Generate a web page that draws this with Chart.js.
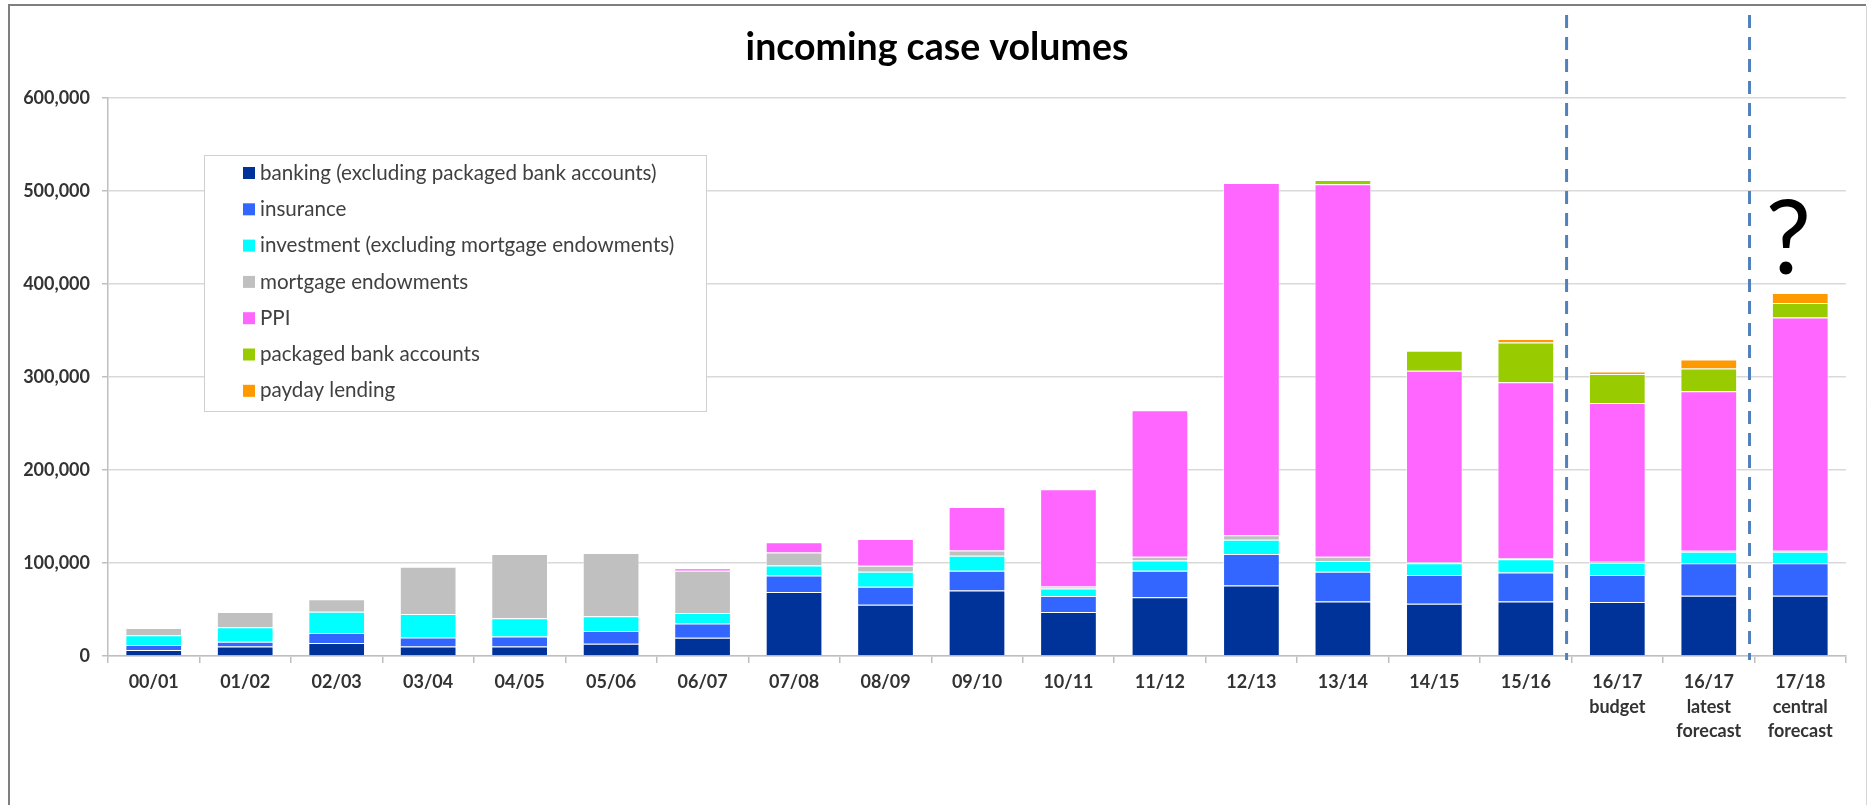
<!DOCTYPE html>
<html>
<head>
<meta charset="utf-8">
<script src="https://cdn.jsdelivr.net/npm/chart.js@4.4.1/dist/chart.umd.min.js"></script>
<style>
  html, body { margin: 0; padding: 0; background: #fff; }
  #wrap { width: 1868px; height: 805px; }
</style>
</head>
<body>
<div id="wrap"><canvas id="chart" width="1868" height="805"></canvas></div>
<script>
// ---- data ----
const chartTitle = 'incoming case volumes';
const years = ['00/01', '01/02', '02/03', '03/04', '04/05', '05/06', '06/07', '07/08', '08/09', '09/10',
  '10/11', '11/12', '12/13', '13/14', '14/15', '15/16',
  ['16/17', 'budget'], ['16/17', 'latest', 'forecast'], ['17/18', 'central', 'forecast']];

const banking    = [6400, 10300, 13900, 10300, 10300, 13200, 19600, 68700, 55200, 70500, 47300, 63300, 75800, 58700, 56200, 58700, 58000, 64800, 64800];
const insurance  = [5300, 5000, 10700, 9600, 10700, 13800, 15300, 17800, 19200, 21300, 17100, 28500, 33800, 32000, 31000, 31000, 29200, 34800, 34800];
const investment = [10700, 15700, 23100, 25300, 19600, 15700, 11400, 10700, 16300, 16000, 8200, 11000, 15300, 11400, 12400, 14200, 13200, 12500, 12500];
const mortgage   = [7800, 16300, 13200, 50900, 69000, 68000, 45500, 14200, 6400, 5700, 2100, 4000, 5000, 4700, 1000, 1000, 1000, 1200, 1000];
const ppi        = [0, 0, 0, 0, 0, 0, 2500, 11000, 28800, 46600, 104700, 157400, 378700, 400400, 206200, 189400, 170700, 171500, 251000];
const packaged   = [0, 0, 0, 0, 0, 0, 0, 0, 0, 0, 0, 0, 0, 4600, 21500, 42900, 31100, 24300, 15400];
const payday     = [0, 0, 0, 0, 0, 0, 0, 0, 0, 0, 0, 0, 0, 0, 0, 3600, 2800, 9700, 10700];

const yTicks = [0, 100000, 200000, 300000, 400000, 500000, 600000];
// dashed separators sit before these category indexes
const splitBefore = [16, 18];

const seriesNames = ['banking (excluding packaged bank accounts)', 'insurance',
  'investment (excluding mortgage endowments)', 'mortgage endowments', 'PPI',
  'packaged bank accounts', 'payday lending'];
const seriesColors = ['#003399', '#3366FF', '#00FFFF', '#C0C0C0', '#FF66FF', '#99CC00', '#FF9900'];
const seriesValues = [banking, insurance, investment, mortgage, ppi, packaged, payday];

const FONT = 'Lato, "Open Sans", sans-serif';

// ========================
// EXTRA DRAWING
// ========================
const framePlugin = {
    id: 'frame',
    beforeDraw(chart) {
        const ctx = chart.ctx;
        ctx.save();
        ctx.fillStyle = '#fff';
        ctx.fillRect(0, 0, chart.width, chart.height);
        ctx.strokeStyle = '#7f7f7f';
        ctx.lineWidth = 2;
        ctx.beginPath();
        ctx.moveTo(9, 805); ctx.lineTo(9, 5); ctx.lineTo(1866, 5);
        ctx.stroke();
        ctx.strokeStyle = '#d6d6d6';
        ctx.lineWidth = 1;
        ctx.beginPath();
        ctx.moveTo(1866.5, 6); ctx.lineTo(1866.5, 805);
        ctx.stroke();
        ctx.restore();
    }
};

const extrasPlugin = {
    id: 'extras',
    afterDraw(chart) {
        const ctx = chart.ctx;
        const xs = chart.scales.x, ys = chart.scales.y;
        const area = chart.chartArea;
        ctx.save();

        // title
        ctx.fillStyle = '#000';
        ctx.font = 'bold 37.5px ' + FONT;
        ctx.textAlign = 'center';
        ctx.textBaseline = 'alphabetic';
        ctx.fillText(chartTitle, 937, 60);

        // dashed separators
        ctx.strokeStyle = '#4F81BD';
        ctx.lineWidth = 3;
        ctx.setLineDash([13, 9]);
        splitBefore.forEach(i => {
            const x = (xs.getPixelForValue(i - 1) + xs.getPixelForValue(i)) / 2 - 5;
            ctx.beginPath();
            ctx.moveTo(x, 15);
            ctx.lineTo(x, area.bottom + 4);
            ctx.stroke();
        });
        ctx.setLineDash([]);

        // question mark over the last bar
        const last = years.length - 1;
        ctx.fillStyle = '#000';
        ctx.font = '102px ' + FONT;
        ctx.textAlign = 'center';
        ctx.fillText('?', xs.getPixelForValue(last) - 12, ys.getPixelForValue(600000) + 176);

        // legend box
        const lx = 204, ly = 155, lw = 502, lh = 256;
        ctx.fillStyle = '#fff';
        ctx.fillRect(lx, ly, lw, lh);
        ctx.strokeStyle = '#d0d0d0';
        ctx.lineWidth = 1;
        ctx.strokeRect(lx + 0.5, ly + 0.5, lw, lh);
        ctx.font = '20.6px ' + FONT;
        ctx.textAlign = 'left';
        ctx.textBaseline = 'middle';
        chart.data.datasets.forEach((ds, i) => {
            const cy = 173 + i * 36.3;
            ctx.fillStyle = ds.backgroundColor;
            ctx.fillRect(243, cy - 6, 12, 12);
            ctx.fillStyle = '#404040';
            ctx.fillText(ds.label, 260, cy);
        });

        ctx.restore();
    }
};

// ========================
// CHART
// ========================
const ctx = document.getElementById('chart');

new Chart(ctx, {
    type: 'bar',
    data: {
        labels: years,
        datasets: seriesNames.map((name, i) => ({
            label: name,
            data: seriesValues[i],
            backgroundColor: seriesColors[i],
            borderColor: 'rgba(255,255,255,0.55)',
            borderWidth: 1,
            categoryPercentage: 1,
            barPercentage: 0.62
        }))
    },
    options: {
        responsive: false,
        devicePixelRatio: 1,
        animation: false,
        layout: { padding: { top: 98, left: 0, right: 22, bottom: 0 } },
        plugins: {
            legend: { display: false },
            title: { display: false },
            tooltip: { enabled: false }
        },
        scales: {
            x: {
                stacked: true,
                offset: true,
                grid: { drawOnChartArea: false, drawTicks: true, tickLength: 7, tickColor: '#bfbfbf', lineWidth: 1.5 },
                border: { color: '#bfbfbf', width: 1.5 },
                ticks: {
                    color: '#333',
                    font: { family: FONT, size: 18, weight: 'bold', lineHeight: 1.36 },
                    padding: 7,
                    maxRotation: 0,
                    autoSkip: false
                },
                afterFit: scale => { scale.height = 149; }
            },
            y: {
                stacked: true,
                min: 0,
                max: 600000,
                afterBuildTicks: scale => { scale.ticks = yTicks.map(v => ({ value: v })); },
                grid: { color: '#d9d9d9', lineWidth: 1.5, tickLength: 6, tickColor: '#bfbfbf' },
                border: { color: '#bfbfbf', width: 1.5 },
                ticks: {
                    color: '#333',
                    font: { family: FONT, size: 18, weight: 'bold' },
                    padding: 12,
                    callback: v => v.toLocaleString('en-US')
                },
                afterFit: scale => { scale.width = 108; }
            }
        }
    },
    plugins: [framePlugin, extrasPlugin]
});
</script>
</body>
</html>
